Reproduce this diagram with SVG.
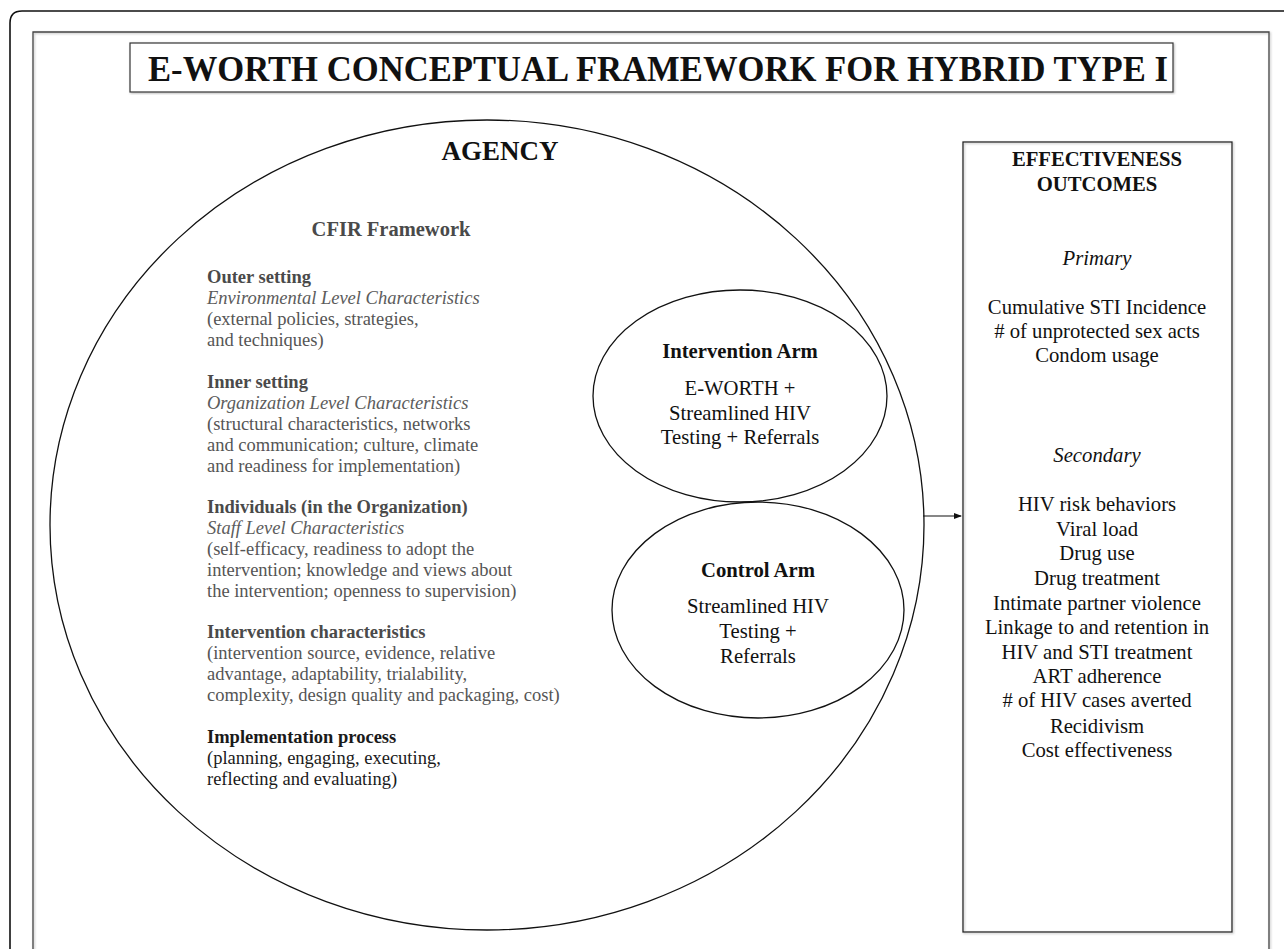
<svg xmlns="http://www.w3.org/2000/svg" width="1284" height="949" viewBox="0 0 1284 949">
<defs>
<marker id="ah" markerWidth="8" markerHeight="6" refX="7" refY="3" orient="auto" markerUnits="userSpaceOnUse">
<path d="M0,0 L8,3 L0,6 Z" fill="#111"/>
</marker>
<filter id="sh" x="-5%" y="-5%" width="110%" height="110%">
<feDropShadow dx="1" dy="1" stdDeviation="1" flood-color="#888" flood-opacity="0.6"/>
</filter>
</defs>
<style>
text{font-family:"Liberation Serif","Times New Roman",serif;}
.line{fill:none;stroke:#111;stroke-width:1.3;}
.g{fill:#555;font-size:18.5px;}
.gb{fill:#4a4a4a;font-size:18.5px;font-weight:bold;}
.gi{fill:#5c5c5c;font-size:18.5px;font-style:italic;}
.k{fill:#1a1a1a;font-size:18.5px;}
.kb{fill:#1a1a1a;font-size:18.5px;font-weight:bold;}
.c{text-anchor:middle;fill:#111;font-size:20.7px;}
.cb{text-anchor:middle;fill:#111;font-size:20.7px;font-weight:bold;}
.ci{text-anchor:middle;fill:#111;font-size:20.7px;font-style:italic;}
</style>
<rect width="1284" height="949" fill="#fff"/>
<g id="frame">
<path d="M1290,11 H22 Q10,11 10,23 V960" fill="none" stroke="#111" stroke-width="1.6"/>
<path d="M33,960 V32 H1269 V960" fill="none" stroke="#444" stroke-width="1.3" filter="url(#sh)"/>
</g>
<g id="title">
<rect x="130" y="43" width="1043" height="49" fill="#fff" stroke="#333" stroke-width="1.2" filter="url(#sh)"/>
<text x="658" y="81" text-anchor="middle" font-size="35" font-weight="bold" fill="#111" textLength="1020" lengthAdjust="spacingAndGlyphs">E-WORTH CONCEPTUAL FRAMEWORK FOR HYBRID TYPE I</text>
</g>
<g id="agency">
<ellipse class="line" cx="487" cy="525" rx="437" ry="405"/>
<text x="500" y="160" text-anchor="middle" font-size="27" font-weight="bold" fill="#111">AGENCY</text>
<text x="391" y="236" text-anchor="middle" font-size="20.5" font-weight="bold" fill="#4a4a4a">CFIR Framework</text>
<text class="gb" x="207" y="283">Outer setting</text>
<text class="gi" x="207" y="304">Environmental Level Characteristics</text>
<text class="g" x="207" y="325">(external policies, strategies,</text>
<text class="g" x="207" y="346">and techniques)</text>
<text class="gb" x="207" y="388">Inner setting</text>
<text class="gi" x="207" y="409">Organization Level Characteristics</text>
<text class="g" x="207" y="430">(structural characteristics, networks</text>
<text class="g" x="207" y="451">and communication; culture, climate</text>
<text class="g" x="207" y="472">and readiness for implementation)</text>
<text class="gb" x="207" y="513">Individuals (in the Organization)</text>
<text class="gi" x="207" y="534">Staff Level Characteristics</text>
<text class="g" x="207" y="555">(self-efficacy, readiness to adopt the</text>
<text class="g" x="207" y="576">intervention; knowledge and views about</text>
<text class="g" x="207" y="597">the intervention; openness to supervision)</text>
<text class="gb" x="207" y="638">Intervention characteristics</text>
<text class="g" x="207" y="659">(intervention source, evidence, relative</text>
<text class="g" x="207" y="680">advantage, adaptability, trialability,</text>
<text class="g" x="207" y="701">complexity, design quality and packaging, cost)</text>
<text class="kb" x="207" y="743">Implementation process</text>
<text class="k" x="207" y="764">(planning, engaging, executing,</text>
<text class="k" x="207" y="785">reflecting and evaluating)</text>
</g>
<g id="intervention-arm">
<ellipse class="line" cx="740" cy="396" rx="147" ry="106"/>
<text class="cb" x="740" y="358">Intervention Arm</text>
<text class="c" x="740" y="395">E-WORTH +</text>
<text class="c" x="740" y="420">Streamlined HIV</text>
<text class="c" x="740" y="444">Testing + Referrals</text>
</g>
<g id="control-arm">
<ellipse class="line" cx="758" cy="610" rx="146" ry="108"/>
<text class="cb" x="758" y="577">Control Arm</text>
<text class="c" x="758" y="613">Streamlined HIV</text>
<text class="c" x="758" y="638">Testing +</text>
<text class="c" x="758" y="663">Referrals</text>
</g>
<g id="outcomes">
<rect x="963" y="142" width="269" height="790" fill="none" stroke="#222" stroke-width="1.3" filter="url(#sh)"/>
<text class="cb" x="1097" y="166">EFFECTIVENESS</text>
<text class="cb" x="1097" y="191">OUTCOMES</text>
<text class="ci" x="1097" y="265">Primary</text>
<text class="c" x="1097" y="314">Cumulative STI Incidence</text>
<text class="c" x="1097" y="338">&#35; of unprotected sex acts</text>
<text class="c" x="1097" y="362">Condom usage</text>
<text class="ci" x="1097" y="462">Secondary</text>
<text class="c" x="1097" y="511">HIV risk behaviors</text>
<text class="c" x="1097" y="536">Viral load</text>
<text class="c" x="1097" y="560">Drug use</text>
<text class="c" x="1097" y="585">Drug treatment</text>
<text class="c" x="1097" y="610">Intimate partner violence</text>
<text class="c" x="1097" y="634">Linkage to and retention in</text>
<text class="c" x="1097" y="659">HIV and STI treatment</text>
<text class="c" x="1097" y="683">ART adherence</text>
<text class="c" x="1097" y="707">&#35; of HIV cases averted</text>
<text class="c" x="1097" y="733">Recidivism</text>
<text class="c" x="1097" y="757">Cost effectiveness</text>
</g>
<g id="connectors">
<line x1="923" y1="516" x2="961" y2="516" stroke="#111" stroke-width="1.2" marker-end="url(#ah)"/>
</g>
</svg>
